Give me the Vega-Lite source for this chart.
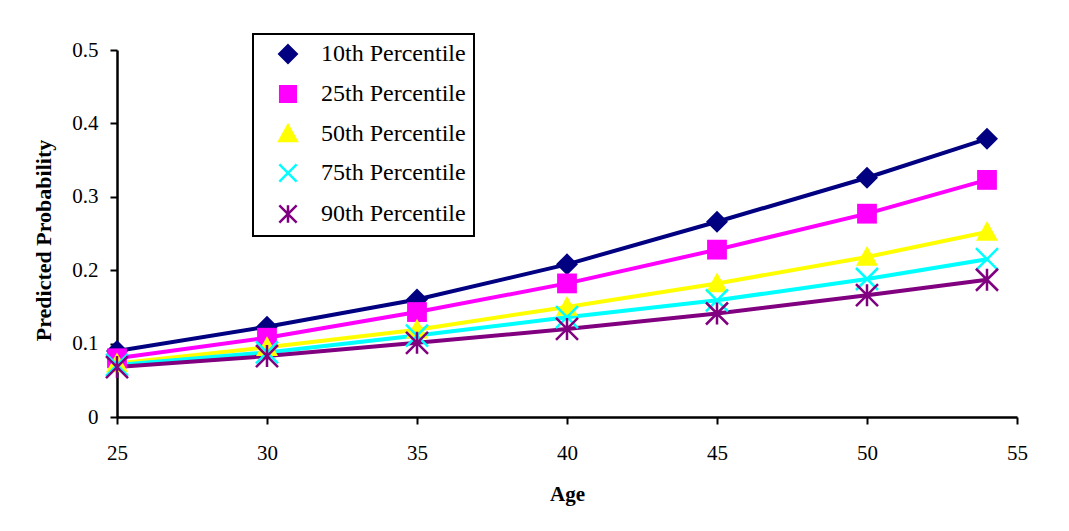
{
  "$schema": "https://vega.github.io/schema/vega-lite/v6.json",
  "autosize": "none",
  "width": 900,
  "height": 367,
  "padding": {"left": 117, "top": 50, "right": 52, "bottom": 114},
  "background": "white",
  "config": {
    "view": {"stroke": null},
    "font": "Liberation Serif",
    "legend": {
      "orient": "none", "legendX": 136, "legendY": -16,
      "strokeColor": "black", "strokeWidth": 2, "fillColor": "white",
      "padding": 8, "rowPadding": 13,
      "labelFont": "Liberation Serif", "labelFontSize": 24, "labelColor": "black",
      "labelLimit": 300, "labelOffset": 21,
      "symbolSize": 300, "symbolStrokeWidth": 2.5, "symbolOffset": 15
    }
  },
  "data": {
    "values": [
      {"age": 25, "p": 0.090, "s": "10th Percentile"},
      {"age": 30, "p": 0.123, "s": "10th Percentile"},
      {"age": 35, "p": 0.160, "s": "10th Percentile"},
      {"age": 40, "p": 0.208, "s": "10th Percentile"},
      {"age": 45, "p": 0.266, "s": "10th Percentile"},
      {"age": 50, "p": 0.326, "s": "10th Percentile"},
      {"age": 54, "p": 0.379, "s": "10th Percentile"},
      {"age": 25, "p": 0.080, "s": "25th Percentile"},
      {"age": 30, "p": 0.108, "s": "25th Percentile"},
      {"age": 35, "p": 0.143, "s": "25th Percentile"},
      {"age": 40, "p": 0.182, "s": "25th Percentile"},
      {"age": 45, "p": 0.228, "s": "25th Percentile"},
      {"age": 50, "p": 0.277, "s": "25th Percentile"},
      {"age": 54, "p": 0.323, "s": "25th Percentile"},
      {"age": 25, "p": 0.073, "s": "50th Percentile"},
      {"age": 30, "p": 0.095, "s": "50th Percentile"},
      {"age": 35, "p": 0.119, "s": "50th Percentile"},
      {"age": 40, "p": 0.150, "s": "50th Percentile"},
      {"age": 45, "p": 0.182, "s": "50th Percentile"},
      {"age": 50, "p": 0.218, "s": "50th Percentile"},
      {"age": 54, "p": 0.252, "s": "50th Percentile"},
      {"age": 25, "p": 0.071, "s": "75th Percentile"},
      {"age": 30, "p": 0.088, "s": "75th Percentile"},
      {"age": 35, "p": 0.111, "s": "75th Percentile"},
      {"age": 40, "p": 0.136, "s": "75th Percentile"},
      {"age": 45, "p": 0.159, "s": "75th Percentile"},
      {"age": 50, "p": 0.188, "s": "75th Percentile"},
      {"age": 54, "p": 0.215, "s": "75th Percentile"},
      {"age": 25, "p": 0.068, "s": "90th Percentile"},
      {"age": 30, "p": 0.083, "s": "90th Percentile"},
      {"age": 35, "p": 0.101, "s": "90th Percentile"},
      {"age": 40, "p": 0.120, "s": "90th Percentile"},
      {"age": 45, "p": 0.141, "s": "90th Percentile"},
      {"age": 50, "p": 0.166, "s": "90th Percentile"},
      {"age": 54, "p": 0.187, "s": "90th Percentile"}
    ]
  },
  "encoding": {
    "x": {
      "field": "age", "type": "quantitative",
      "scale": {"domain": [25, 55], "nice": false, "zero": false},
      "axis": {
        "title": "Age", "values": [25, 30, 35, 40, 45, 50, 55],
        "grid": false, "domainColor": "black", "domainWidth": 2.5,
        "tickColor": "black", "tickWidth": 2, "tickSize": 7,
        "labelFont": "Liberation Serif", "labelFontSize": 21, "labelColor": "black",
        "labelPadding": 18, "labelFlush": false,
        "titleFont": "Liberation Serif", "titleFontSize": 21, "titleFontWeight": "bold",
        "titleColor": "black", "titlePadding": 20
      }
    },
    "y": {
      "field": "p", "type": "quantitative",
      "scale": {"domain": [0, 0.5], "nice": false},
      "axis": {
        "title": "Predicted Probability", "values": [0, 0.1, 0.2, 0.3, 0.4, 0.5],
        "format": "~g",
        "grid": false, "domainColor": "black", "domainWidth": 2.5,
        "tickColor": "black", "tickWidth": 2, "tickSize": 7,
        "labelFont": "Liberation Serif", "labelFontSize": 21, "labelColor": "black",
        "labelPadding": 12, "labelFlush": false,
        "titleFont": "Liberation Serif", "titleFontSize": 22, "titleFontWeight": "bold",
        "titleColor": "black", "titlePadding": 16, "titleY": 190
      }
    },
    "color": {
      "field": "s", "type": "nominal", "title": null,
      "scale": {
        "domain": ["10th Percentile", "25th Percentile", "50th Percentile", "75th Percentile", "90th Percentile"],
        "range": ["#000080", "#FF00FF", "#FFFF00", "#00FFFF", "#800080"]
      },
      "legend": {"title": null}
    }
  },
  "layer": [
    {
      "mark": {"type": "line", "strokeWidth": 4}
    },
    {
      "transform": [{"filter": "datum.s == '10th Percentile' || datum.s == '25th Percentile' || datum.s == '50th Percentile'"}],
      "mark": {"type": "point", "filled": true, "opacity": 1, "size": 484},
      "encoding": {
        "shape": {
          "field": "s", "type": "nominal", "title": null,
          "scale": {
            "domain": ["10th Percentile", "25th Percentile", "50th Percentile", "75th Percentile", "90th Percentile"],
            "range": ["M0,-1L1,0L0,1L-1,0Z", "M-0.9,-0.9L0.9,-0.9L0.9,0.9L-0.9,0.9Z", "M0,-1L1,0.8L-1,0.8Z", "M-1,-1L1,1M-1,1L1,-1", "M-1,-1L1,1M-1,1L1,-1M0,-1L0,1"]
          },
          "legend": {"title": null}
        }
      }
    },
    {
      "transform": [{"filter": "datum.s == '75th Percentile' || datum.s == '90th Percentile'"}],
      "mark": {"type": "point", "filled": false, "opacity": 1, "size": 484, "strokeWidth": 2.5},
      "encoding": {
        "shape": {
          "field": "s", "type": "nominal", "title": null,
          "scale": {
            "domain": ["10th Percentile", "25th Percentile", "50th Percentile", "75th Percentile", "90th Percentile"],
            "range": ["M0,-1L1,0L0,1L-1,0Z", "M-0.9,-0.9L0.9,-0.9L0.9,0.9L-0.9,0.9Z", "M0,-1L1,0.8L-1,0.8Z", "M-1,-1L1,1M-1,1L1,-1", "M-1,-1L1,1M-1,1L1,-1M0,-1L0,1"]
          },
          "legend": {"title": null}
        }
      }
    }
  ]
}
